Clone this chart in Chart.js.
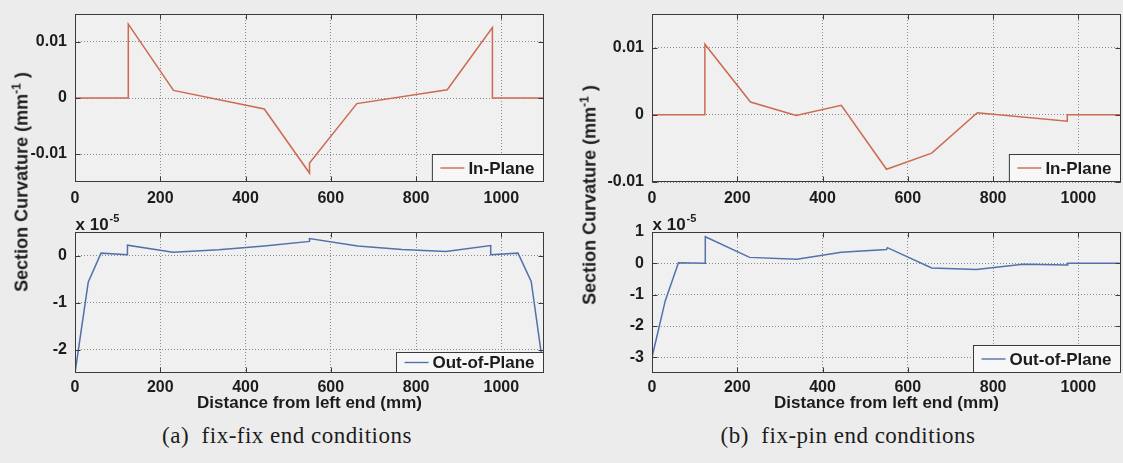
<!DOCTYPE html>
<html>
<head>
<meta charset="utf-8">
<script src="https://cdn.jsdelivr.net/npm/chart.js@4.4.1/dist/chart.umd.min.js"></script>
<style>
  body { margin: 0; background: #ececec; }
  #page { position: relative; width: 1123px; height: 463px; overflow: hidden;
          font-family: "Liberation Sans", Arial, sans-serif; color: #1c1c1c; }
  canvas { position: absolute; }
  .ytitle { position: absolute; font-weight: bold; font-size: 18px; white-space: nowrap;
            transform: translate(-50%, -50%) rotate(-90deg); }
  .ytitle sup { font-size: 12px; }
  .caption { position: absolute; font-family: "Liberation Serif", serif; font-size: 23px;
             letter-spacing: 0.5px; white-space: nowrap; transform: translate(-50%, -50%); }
</style>
</head>
<body>
<div id="page">
  <canvas id="ffIn" width="560" height="212" style="left:0;top:0"></canvas>
  <canvas id="ffOut" width="560" height="208" style="left:0;top:212px"></canvas>
  <canvas id="fpIn" width="548" height="212" style="left:575px;top:0"></canvas>
  <canvas id="fpOut" width="548" height="208" style="left:575px;top:212px"></canvas>
  <div class="ytitle" style="left:21px;top:182px">Section Curvature (mm<sup>-1</sup> )</div>
  <div class="ytitle" style="left:589px;top:195px">Section Curvature (mm<sup>-1</sup> )</div>
  <div class="caption" style="left:287px;top:436px">(a)&nbsp;&nbsp;fix-fix end conditions</div>
  <div class="caption" style="left:848px;top:436px">(b)&nbsp;&nbsp;fix-pin end conditions</div>
</div>
<script>
// distance from left end (mm), shared by all panels
const xTicks = [0, 200, 400, 600, 800, 1000];

// fix-fix, in-plane curvature (mm^-1)
const ffInX = [0, 125, 125, 231, 444, 550, 550, 661, 873, 979, 979, 1100];
const ffInY = [0, 0, 0.0132, 0.00136, -0.00196, -0.0134, -0.0116, -0.0010, 0.00148, 0.0126, 0, 0];
const ffInTicks = [-0.01, 0, 0.01];

// fix-fix, out-of-plane curvature (x 10^-5 mm^-1)
const ffOutX = [0, 31, 61, 123, 123, 230, 337, 444, 550, 550, 663, 767, 870, 975, 975, 1039, 1070, 1100];
const ffOutY = [-2.5, -0.57, 0.05, 0.015, 0.22, 0.07, 0.12, 0.2, 0.3, 0.36, 0.2, 0.13, 0.085, 0.21, 0.015, 0.05, -0.55, -2.5];
const ffOutTicks = [-2, -1, 0];

// fix-pin, in-plane curvature (mm^-1)
const fpInX = [0, 124, 124, 231, 338, 444, 550, 656, 763, 974, 974, 1100];
const fpInY = [0, 0, 0.0105, 0.0019, -0.0001, 0.0014, -0.0081, -0.0057, 0.0003, -0.00095, 0, 0];
const fpInTicks = [-0.01, 0, 0.01];

// fix-pin, out-of-plane curvature (x 10^-5 mm^-1)
const fpOutX = [0, 31, 62, 125, 125, 229, 340, 444, 550, 552, 656, 761, 870, 975, 975, 1100];
const fpOutY = [-3.0, -1.2, 0.02, 0, 0.85, 0.19, 0.13, 0.35, 0.44, 0.5, -0.15, -0.2, -0.03, -0.05, 0, 0];
const fpOutTicks = [-3, -2, -1, 0, 1];

const FONT = '"Liberation Sans", Arial, sans-serif';
const INK = '#1c1c1c';

// axes box, inward tick marks, boxed legend and the exponent note
const framePlugin = {
  id: 'frame',
  beforeDraw(chart, args, opts) {
    const { ctx, chartArea: a } = chart;
    ctx.save();
    ctx.fillStyle = '#f0f0f0';
    ctx.fillRect(a.left, a.top, a.right - a.left, a.bottom - a.top);
    ctx.restore();
  },
  afterDraw(chart, args, opts) {
    const { ctx, chartArea: a, scales } = chart;
    const L = Math.round(a.left) + 0.5, R = Math.round(a.right) - 0.5;
    const T = Math.round(a.top) + 0.5, B = Math.round(a.bottom) - 0.5;
    ctx.save();
    ctx.strokeStyle = '#3a3a3a';
    ctx.lineWidth = 1;
    ctx.strokeRect(L, T, R - L, B - T);
    ctx.beginPath();
    scales.x.ticks.forEach(t => {
      const px = Math.round(scales.x.getPixelForValue(t.value)) + 0.5;
      ctx.moveTo(px, B); ctx.lineTo(px, B - 5);
      ctx.moveTo(px, T); ctx.lineTo(px, T + 5);
    });
    scales.y.ticks.forEach(t => {
      const py = Math.round(scales.y.getPixelForValue(t.value)) + 0.5;
      ctx.moveTo(L, py); ctx.lineTo(L + 5, py);
      ctx.moveTo(R, py); ctx.lineTo(R - 5, py);
    });
    ctx.stroke();

    // legend in the lower right corner
    ctx.font = 'bold 17px ' + FONT;
    const tw = ctx.measureText(opts.label).width;
    const w = 8 + 24 + 4 + tw + 9, h = opts.legendH;
    const x = R - w, y = B - h;
    ctx.fillStyle = '#f7f7f7';
    ctx.fillRect(x, y, w, h);
    ctx.strokeStyle = '#3a3a3a';
    ctx.strokeRect(x, y, w, h);
    ctx.strokeStyle = opts.color;
    ctx.lineWidth = 1.4;
    ctx.beginPath();
    ctx.moveTo(x + 8, y + h / 2); ctx.lineTo(x + 32, y + h / 2);
    ctx.stroke();
    ctx.fillStyle = INK;
    ctx.textBaseline = 'middle';
    ctx.fillText(opts.label, x + 36, y + h / 2 + 1);

    if (opts.exponent) {
      ctx.font = 'bold 17px ' + FONT;
      ctx.textBaseline = 'alphabetic';
      ctx.fillText('x 10', L, T - 3);
      const ew = ctx.measureText('x 10').width;
      ctx.font = 'bold 11px ' + FONT;
      ctx.fillText('-5', L + ew + 1, T - 11);
    }
    ctx.restore();
  }
};

function panel(id, xs, ys, yTicks, yMin, yMax, color, o) {
  const points = xs.map((x, i) => ({ x: x, y: ys[i] }));
  return new Chart(document.getElementById(id), {
    type: 'line',
    data: {
      datasets: [{
        label: o.label,
        data: points,
        borderColor: color,
        borderWidth: 1.5,
        pointRadius: 0,
        tension: 0,
        fill: false
      }]
    },
    options: {
      responsive: false,
      animation: false,
      devicePixelRatio: 1,
      layout: { padding: { top: o.padTop, right: o.padRight, left: 0, bottom: 0 } },
      plugins: {
        legend: { display: false },
        tooltip: { enabled: false },
        frame: { label: o.label, color: color, legendH: o.legendH, exponent: o.exponent }
      },
      scales: {
        x: {
          type: 'linear',
          min: 0,
          max: 1100,
          afterBuildTicks: s => { s.ticks = xTicks.map(v => ({ value: v })); },
          afterFit: s => { s.height = o.xHeight; s.paddingLeft = 0; s.paddingRight = 0; },
          grid: { color: '#8c8c8c', lineWidth: 1, drawTicks: false },
          border: { display: false, dash: [1, 2] },
          ticks: { color: INK, padding: o.tickPad, font: { family: FONT, size: 16, weight: 'bold' },
                   callback: v => String(v) },
          title: {
            display: !!o.xTitle,
            text: o.xTitle || '',
            color: INK,
            font: { family: FONT, size: 17, weight: 'bold', lineHeight: 1.2 },
            padding: { top: 0, bottom: 6 }
          }
        },
        y: {
          type: 'linear',
          min: yMin,
          max: yMax,
          afterBuildTicks: s => { s.ticks = yTicks.map(v => ({ value: v })); },
          afterFit: s => { s.width = o.yWidth; s.paddingTop = 0; s.paddingBottom = 0; },
          grid: { color: '#8c8c8c', lineWidth: 1, drawTicks: false },
          border: { display: false, dash: [1, 2] },
          ticks: { color: INK, padding: 8, font: { family: FONT, size: 16, weight: 'bold' },
                   callback: v => String(v) }
        }
      }
    },
    plugins: [framePlugin]
  });
}

const inRed = '#cc6a52';
const outBlue = '#5271ab';
const xTitle = 'Distance from left end (mm)';

panel('ffIn', ffInX, ffInY, ffInTicks, -0.015, 0.015, inRed,
  { label: 'In-Plane', padTop: 14, padRight: 16, yWidth: 75, xHeight: 30, tickPad: 7, legendH: 27 });
panel('ffOut', ffOutX, ffOutY, ffOutTicks, -2.5, 0.5, outBlue,
  { label: 'Out-of-Plane', padTop: 20, padRight: 16, yWidth: 75, xHeight: 47, tickPad: 5, legendH: 20,
    exponent: true, xTitle: xTitle });
panel('fpIn', fpInX, fpInY, fpInTicks, -0.01, 0.015, inRed,
  { label: 'In-Plane', padTop: 14, padRight: 2, yWidth: 77, xHeight: 30, tickPad: 7, legendH: 27 });
panel('fpOut', fpOutX, fpOutY, fpOutTicks, -3.5, 1, outBlue,
  { label: 'Out-of-Plane', padTop: 20, padRight: 2, yWidth: 77, xHeight: 47, tickPad: 5, legendH: 27,
    exponent: true, xTitle: xTitle });
</script>
</body>
</html>
